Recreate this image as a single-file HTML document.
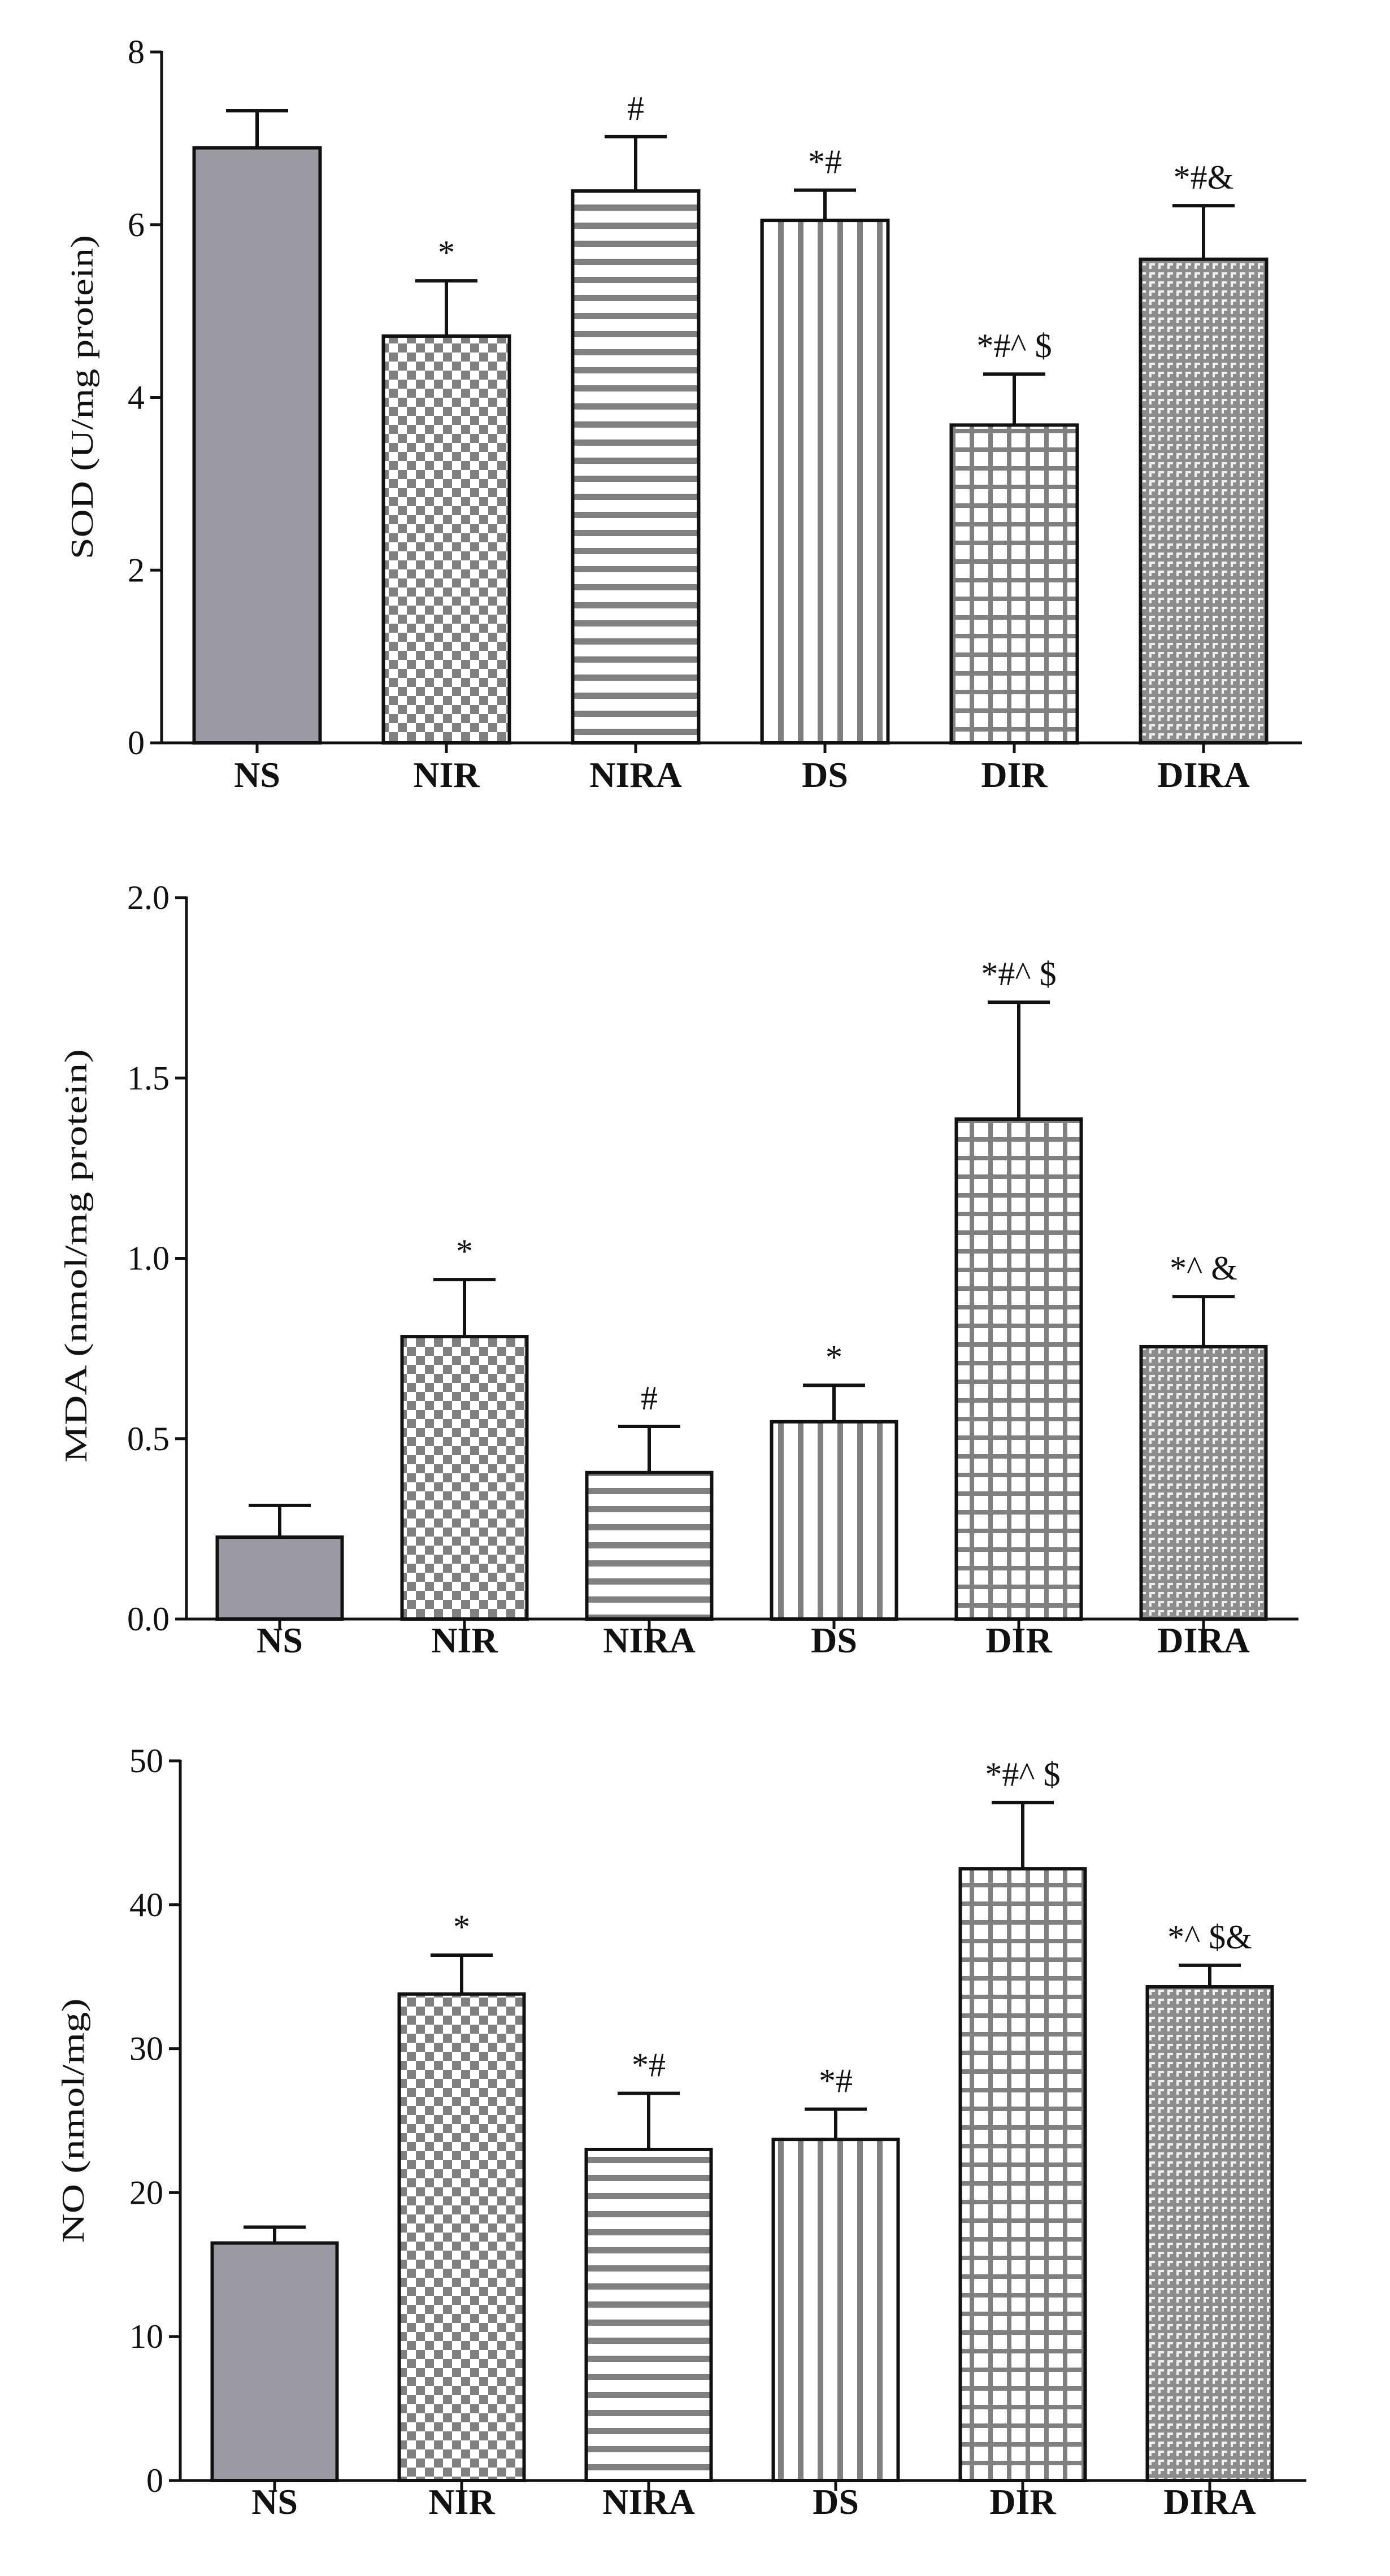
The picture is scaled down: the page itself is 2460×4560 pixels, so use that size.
<!DOCTYPE html>
<html><head><meta charset="utf-8"><style>
html,body{margin:0;padding:0;background:#fff;}
svg{display:block;}
text{font-family:"Liberation Serif",serif;fill:#111;}
</style></head>
<body>
<svg id="fig" width="2460" height="4560" viewBox="0 0 2460 4560" xmlns="http://www.w3.org/2000/svg">
<defs>
<pattern id="p-check" width="32" height="32" patternUnits="userSpaceOnUse"><rect width="32" height="32" fill="#fff"/><rect width="16" height="16" fill="#808080"/><rect x="16" y="16" width="16" height="16" fill="#808080"/></pattern>
<pattern id="p-hline" width="32" height="32" patternUnits="userSpaceOnUse"><rect width="32" height="32" fill="#fff"/><rect y="10" width="32" height="11" fill="#808080"/></pattern>
<pattern id="p-vline" width="35" height="35" patternUnits="userSpaceOnUse"><rect width="35" height="35" fill="#fff"/><rect x="12" width="10" height="35" fill="#808080"/></pattern>
<pattern id="p-grid" width="33" height="33" patternUnits="userSpaceOnUse"><rect width="33" height="33" fill="#fff"/><rect width="33" height="8" fill="#808080"/><rect width="8" height="33" fill="#808080"/></pattern>
<pattern id="p-fine" width="16" height="16" patternUnits="userSpaceOnUse"><rect width="16" height="16" fill="#8c8c8c"/><rect x="2" y="2" width="10" height="4" fill="#f0f0f0"/><rect x="2" y="2" width="4" height="10" fill="#f0f0f0"/></pattern>
</defs>
</svg>
<script>
const categories = ["NS","NIR","NIRA","DS","DIR","DIRA"];
const sodValues = [6.89, 4.71, 6.39, 6.05, 3.68, 5.60];
const sodErrors = [0.43, 0.64, 0.63, 0.35, 0.59, 0.62];
const sodTicks = [0, 2, 4, 6, 8];
const sodTickLabels = ["0","2","4","6","8"];
const sodMarks = ["", "*", "#", "*#", "*#^ $", "*#&"];
const mdaValues = [0.227, 0.783, 0.406, 0.547, 1.386, 0.755];
const mdaErrors = [0.088, 0.158, 0.128, 0.101, 0.324, 0.139];
const mdaTicks = [0, 0.5, 1.0, 1.5, 2.0];
const mdaTickLabels = ["0.0","0.5","1.0","1.5","2.0"];
const mdaMarks = ["", "*", "#", "*", "*#^ $", "*^ &"];
const noValues = [16.5, 33.8, 23.0, 23.7, 42.5, 34.3];
const noErrors = [1.1, 2.7, 3.9, 2.1, 4.6, 1.5];
const noTicks = [0, 10, 20, 30, 40, 50];
const noTickLabels = ["0","10","20","30","40","50"];
const noMarks = ["", "*", "*#", "*#", "*#^ $", "*^ $&"];
const fills = ["#9b9aa3","url(#p-check)","url(#p-hline)","url(#p-vline)","url(#p-grid)","url(#p-fine)"];
const NS = "http://www.w3.org/2000/svg";
const svg = document.getElementById('fig');
function mk(tag, attrs, parent){const e=document.createElementNS(NS,tag);for(const k in attrs)e.setAttribute(k,attrs[k]);(parent||svg).appendChild(e);return e;}

function drawChart(id, L, values, errors, ticks, tickLabels, marks, title){
  const g = mk('g',{});
  
  
  const y = v => L.y0 - (v / L.max) * (L.y0 - L.yTop);
  const x = i => L.x0 + i * L.step;
  values.forEach((v,i)=>{
    const top = y(v), et = y(v + errors[i]);
    const eb = mk('line',{x1:x(i),x2:x(i),y1:top,y2:et,stroke:'#111','stroke-width':6},g);
    
    
    const cap = mk('line',{x1:x(i)-55,x2:x(i)+55,y1:et,y2:et,stroke:'#111','stroke-width':6},g);
    
    
    const r = mk('rect',{x:x(i)-L.bw/2,y:top,width:L.bw,height:L.y0-top,fill:fills[i],stroke:'#111','stroke-width':6},g);
    
    
    if(marks[i]){
      const t = mk('text',{x:x(i),y:et-30,'text-anchor':'middle','font-size':60},g);
      t.textContent = marks[i];
      
      
    }
    const tk = mk('line',{x1:x(i),x2:x(i),y1:L.y0,y2:L.y0+18,stroke:'#111','stroke-width':5},g);
    
    
    const cl = mk('text',{x:x(i),y:L.labY,'text-anchor':'middle','font-size':64,'font-weight':'bold'},g);
    cl.textContent = categories[i];
    
    
  });
  const ya = mk('line',{x1:L.ax,x2:L.ax,y1:L.yTop-2,y2:L.y0+2,stroke:'#111','stroke-width':5},g);
  
  
  const xa = mk('line',{x1:L.ax-20,x2:L.xEnd,y1:L.y0,y2:L.y0,stroke:'#111','stroke-width':5},g);
  
  
  ticks.forEach((tv,k)=>{
    const tl = mk('line',{x1:L.ax-20,x2:L.ax,y1:y(tv),y2:y(tv),stroke:'#111','stroke-width':5},g);
    
    
    const tt = mk('text',{x:L.ax-30,y:y(tv)+20,'text-anchor':'end','font-size':60},g);
    tt.textContent = tickLabels[k];
    
    
  });
  const yt = mk('text',{x:0,y:0,'text-anchor':'middle','font-size':56,textLength:L.tLen,lengthAdjust:'spacingAndGlyphs',transform:`translate(${L.tX+19},${L.tY}) rotate(-90)`},g);
  yt.textContent = title;
  
  
}

drawChart('sod',{ax:286,yTop:92,y0:1315,max:8,x0:455,step:335,bw:223,xEnd:2304,labY:1393,tX:145,tY:703,tLen:574},
  sodValues, sodErrors, sodTicks, sodTickLabels, sodMarks, "SOD (U/mg protein)");
drawChart('mda',{ax:330,yTop:1589,y0:2866,max:2,x0:495,step:327,bw:221,xEnd:2298,labY:2925,tX:134,tY:2223,tLen:732},
  mdaValues, mdaErrors, mdaTicks, mdaTickLabels, mdaMarks, "MDA (nmol/mg protein)");
drawChart('no',{ax:319,yTop:3117,y0:4391,max:50,x0:486,step:331,bw:221,xEnd:2312,labY:4450,tX:129,tY:3754,tLen:433},
  noValues, noErrors, noTicks, noTickLabels, noMarks, "NO (nmol/mg)");
</script>
</body></html>
